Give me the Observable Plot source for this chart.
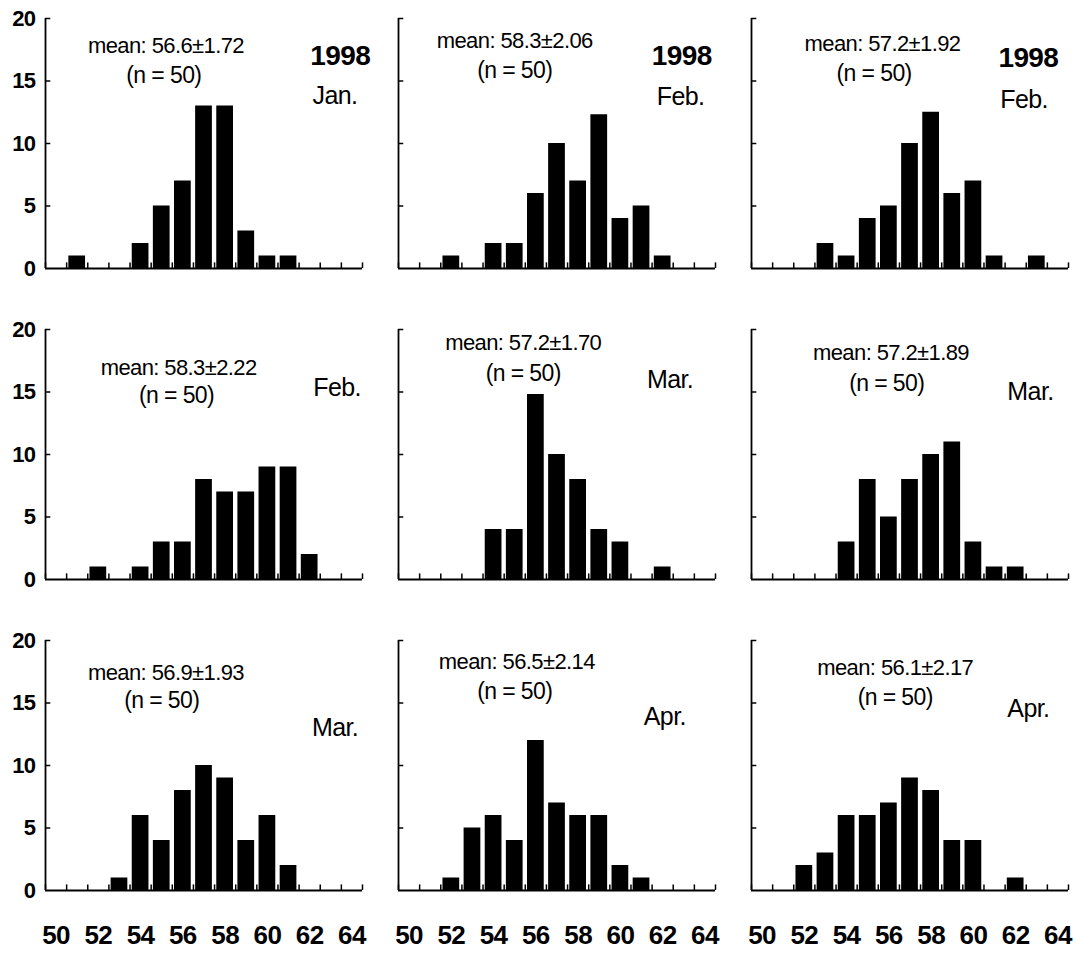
<!DOCTYPE html>
<html><head><meta charset="utf-8">
<script src="https://cdn.jsdelivr.net/npm/d3@7"></script>
<script src="https://cdn.jsdelivr.net/npm/@observablehq/plot@0.6"></script>
<style>
body{margin:0;background:#fff;}
#chart svg{display:block}
#chart text{letter-spacing:-0.6px}
</style></head><body><div id="chart"></div>
<script>
// Bin centres (length classes) and bin edges
const lengths = [50,51,52,53,54,55,56,57,58,59,60,61,62,63,64];
const binEdges = [49.5,50.5,51.5,52.5,53.5,54.5,55.5,56.5,57.5,58.5,59.5,60.5,61.5,62.5,63.5,64.5];
const xTickLabels = [50,52,54,56,58,60,62,64];
const yTickLabels = [0,5,10,15,20];
const yTickMarks = [5,10,15,20];

// Frequencies per panel (aligned to lengths)
const countsJan   = [0,1,0,0,2,5,7,13,13,3,1,1,0,0,0];
const countsFebA  = [0,0,1,0,2,2,6,10,7,12.3,4,5,1,0,0];
const countsFebB  = [0,0,0,2,1,4,5,10,12.5,6,7,1,0,1,0];
const countsFebC  = [0,0,1,0,1,3,3,8,7,7,9,9,2,0,0];
const countsMarA  = [0,0,0,0,4,4,14.8,10,8,4,3,0,1,0,0];
const countsMarB  = [0,0,0,0,3,8,5,8,10,11,3,1,1,0,0];
const countsMarC  = [0,0,0,1,6,4,8,10,9,4,6,2,0,0,0];
const countsAprA  = [0,0,1,5,6,4,12,7,6,6,2,1,0,0,0];
const countsAprB  = [0,0,2,3,6,6,7,9,8,4,4,0,1,0,0];

const months = ["Jan.","Feb.","Feb.","Feb.","Mar.","Mar.","Mar.","Apr.","Apr."];
const years = ["1998","1998","1998","","","","","",""];
const meanLabels = ["mean: 56.6±1.72","mean: 58.3±2.06","mean: 57.2±1.92","mean: 58.3±2.22","mean: 57.2±1.70","mean: 57.2±1.89","mean: 56.9±1.93","mean: 56.5±2.14","mean: 56.1±2.17"];
const sampleSizes = [50,50,50,50,50,50,50,50,50];

// Annotation placement (in data units of each panel) – layout, not data
const layout = [
  {mx:55.2, my:17.8, nx:55.1, ny:15.4, tx:63.2, ty:13.8, yx:63.45, yy:17.0},
  {mx:55.0, my:18.2, nx:55.0, ny:15.8, tx:62.85,ty:13.7, yx:62.9, yy:17.0},
  {mx:55.7, my:18.0, nx:55.3, ny:15.6, tx:62.4, ty:13.5, yx:62.6, yy:16.8},
  {mx:55.8, my:16.9, nx:55.7, ny:14.7, tx:63.3, ty:15.3},
  {mx:55.4, my:18.9, nx:55.4, ny:16.5, tx:62.35,ty:16.0},
  {mx:56.1, my:18.1, nx:55.9, ny:15.7, tx:62.7, ty:15.0},
  {mx:55.2, my:17.4, nx:55.0, ny:15.2, tx:63.2, ty:13.0},
  {mx:55.1, my:18.3, nx:55.0, ny:15.9, tx:62.1, ty:13.9},
  {mx:56.3, my:17.8, nx:56.3, ny:15.4, tx:62.6, ty:14.5}
];

const panels = [countsJan,countsFebA,countsFebB,countsFebC,countsMarA,countsMarB,countsMarC,countsAprA,countsAprB];

const bars = panels.flatMap((counts,i)=>counts.map((c,j)=>({col:i%3,row:Math.floor(i/3),len:lengths[j],count:c}))).filter(d=>d.count>0);
const annot = layout.map((p,i)=>({...p,col:i%3,row:Math.floor(i/3),mean:meanLabels[i],n:`(n = ${sampleSizes[i]})`,month:months[i],year:years[i]}));
const yearAnnot = annot.filter(d=>d.year);

const FONT = '"Liberation Sans",Arial,Helvetica,sans-serif';
const fxy = {fx:"col",fy:"row"};

const chart = Plot.plot({
  width:1073, height:955,
  marginLeft:45, marginRight:5, marginTop:17, marginBottom:65,
  x:{domain:[49.5,64.5]},
  y:{domain:[0,20]},
  fx:{domain:[0,1,2], paddingInner:0.102, paddingOuter:0, axis:null},
  fy:{domain:[0,1,2], paddingInner:0.197, paddingOuter:0, axis:null},
  style:{fontFamily:FONT, background:"white", color:"black"},
  marks:[
    Plot.rectY(bars,{...fxy, x1:d=>d.len-0.5, x2:d=>d.len+0.5, y:"count", insetLeft:2.2, insetRight:2.2, fill:"black"}),
    Plot.ruleY([0],{stroke:"black", strokeWidth:2}),
    Plot.ruleX([49.5],{stroke:"black", strokeWidth:1.8}),
    Plot.ruleX(binEdges,{x:d=>d, y1:0, y2:0.45, stroke:"black", strokeWidth:1.5}),
    Plot.ruleY(yTickMarks,{y:d=>d, x1:49.5, x2:49.75, stroke:"black", strokeWidth:1.5}),
    Plot.axisY({ticks:yTickLabels, tickSize:0, tickPadding:10, fontSize:22, fontWeight:"bold"}),
    Plot.axisX({ticks:xTickLabels, tickSize:0, tickPadding:35, fontSize:26, fontWeight:"bold"}),
    Plot.text(annot,{...fxy, x:"mx", y:"my", text:"mean", fontSize:22}),
    Plot.text(annot,{...fxy, x:"nx", y:"ny", text:"n", fontSize:23}),
    Plot.text(annot,{...fxy, x:"tx", y:"ty", text:"month", fontSize:25}),
    Plot.text(yearAnnot,{...fxy, x:"yx", y:"yy", text:"year", fontSize:28, fontWeight:"bold"})
  ]
});
document.getElementById("chart").append(chart);
</script></body></html>
